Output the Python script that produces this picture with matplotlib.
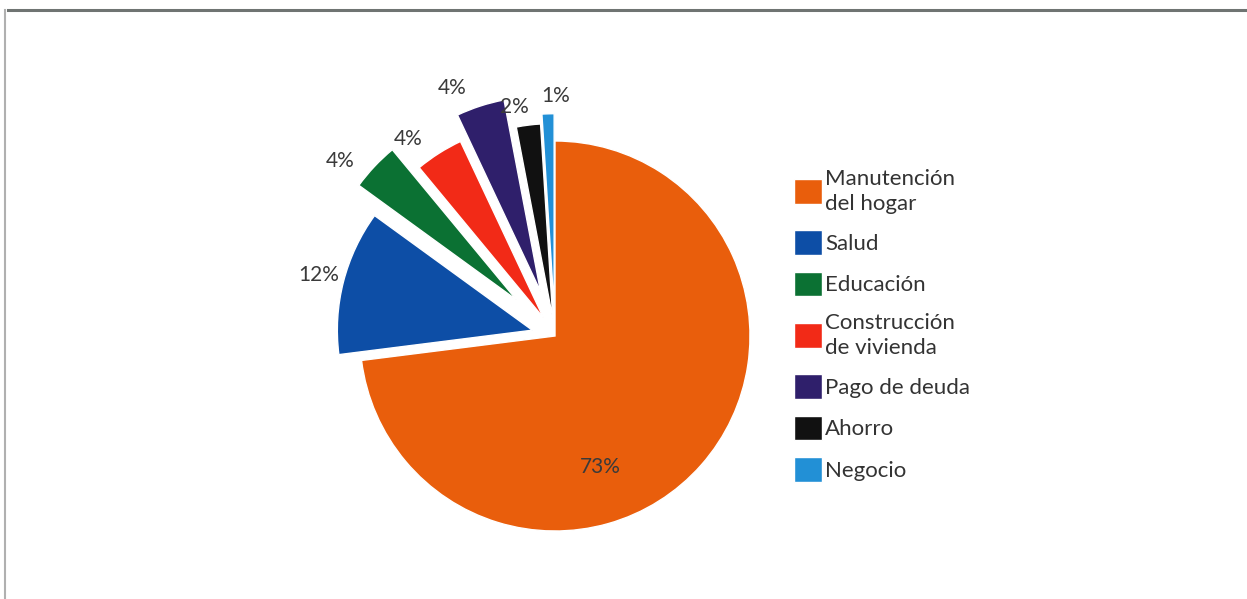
import numpy as np
import matplotlib.pyplot as plt
from matplotlib.lines import Line2D

# Data
categories = ['Manutención\ndel hogar', 'Salud', 'Educación', 'Construcción\nde vivienda',
              'Pago de deuda', 'Ahorro', 'Negocio']
shares = [73, 12, 4, 4, 4, 2, 1]
pct_labels = ['73%', '12%', '4%', '4%', '4%', '2%', '1%']

colors = ['#E95E0C', '#0D4EA6', '#0B7133', '#F22A17', '#2F1F6B', '#111111', '#2290D6']
explode = [0.0, 0.12, 0.27, 0.11, 0.24, 0.09, 0.14]
# label placement (radius from wedge centre in units of r, angle shift in degrees)
lab_dist = [0.71, 1.13, 1.15, 1.15, 1.14, 1.10, 1.09]
lab_shift = [-29.6, 0.0, 5.0, 4.6, 5.5, 3.0, -2.3]

plt.rcParams['font.family'] = ['Lato', 'DejaVu Sans']

W, H = 1247, 599
CX, CY, R = 555, 336, 195  # pie centre / radius in pixels

fig = plt.figure(figsize=(W/100, H/100), dpi=100)
ax = fig.add_axes([0, 0, 1, 1])

wedges, _ = ax.pie(shares, colors=colors, explode=explode, startangle=90,
                   counterclock=False, radius=1.0,
                   wedgeprops=dict(edgecolor='white', linewidth=1.0))

for w, lab, d, s in zip(wedges, pct_labels, lab_dist, lab_shift):
    ang = np.deg2rad((w.theta1 + w.theta2)/2 + s)
    cx, cy = w.center
    ax.text(cx + d*np.cos(ang), cy + d*np.sin(ang), lab, ha='center', va='center',
            fontsize=15, color='#3a3a3a')

ax.set_xlim(-CX/R, (W - CX)/R)
ax.set_ylim((CY - H)/R, CY/R)
ax.set_aspect('auto')
ax.axis('off')

leg = ax.legend(wedges, categories, loc='upper left',
                bbox_to_anchor=(785/W, 1 - 160/H), frameon=False,
                fontsize=16, handlelength=1.25, handleheight=1.35,
                handletextpad=0.15, labelspacing=0.74, borderaxespad=0)
for t in leg.get_texts():
    t.set_color('#333333')
    t.set_linespacing(1.3)

# thin scan-like frame lines at top and left
fig.add_artist(Line2D([8/W, 1], [1 - 10/H, 1 - 10/H], transform=fig.transFigure,
                      color='#6f7472', linewidth=2.2))
fig.add_artist(Line2D([5/W, 5/W], [0, 1 - 10/H], transform=fig.transFigure,
                      color='#b0b0b0', linewidth=1.5))

fig.savefig('out.png', dpi=100, facecolor='white')
